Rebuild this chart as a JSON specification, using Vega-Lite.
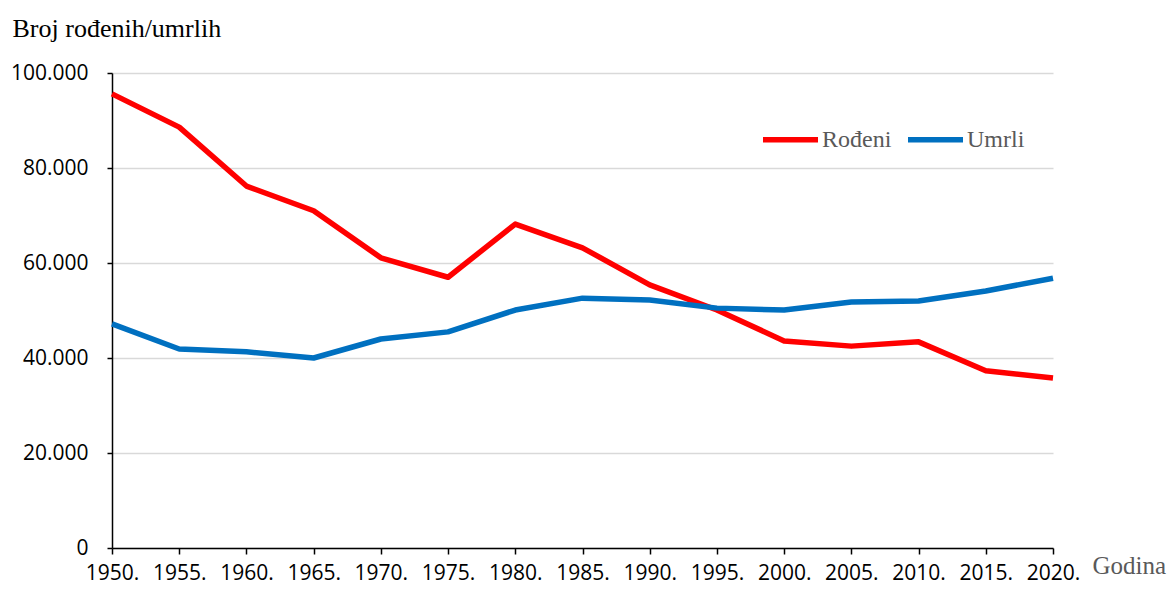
{
  "$schema": "https://vega.github.io/schema/vega-lite/v6.json",
  "autosize": {"type": "none"},
  "width": 941,
  "height": 475,
  "padding": {"left": 112, "top": 73, "right": 119, "bottom": 42},
  "background": "white",
  "config": {"view": {"stroke": null}},
  "data": {
    "values": [
      {"godina": 1950, "serija": "Rođeni", "broj": 95600},
      {"godina": 1955, "serija": "Rođeni", "broj": 88600},
      {"godina": 1960, "serija": "Rođeni", "broj": 76200},
      {"godina": 1965, "serija": "Rođeni", "broj": 71000},
      {"godina": 1970, "serija": "Rođeni", "broj": 61100},
      {"godina": 1975, "serija": "Rođeni", "broj": 57000},
      {"godina": 1980, "serija": "Rođeni", "broj": 68200},
      {"godina": 1985, "serija": "Rođeni", "broj": 63200},
      {"godina": 1990, "serija": "Rođeni", "broj": 55400},
      {"godina": 1995, "serija": "Rođeni", "broj": 50100},
      {"godina": 2000, "serija": "Rođeni", "broj": 43600},
      {"godina": 2005, "serija": "Rođeni", "broj": 42500},
      {"godina": 2010, "serija": "Rođeni", "broj": 43400},
      {"godina": 2015, "serija": "Rođeni", "broj": 37300},
      {"godina": 2020, "serija": "Rođeni", "broj": 35800},
      {"godina": 1950, "serija": "Umrli", "broj": 47200},
      {"godina": 1955, "serija": "Umrli", "broj": 41900},
      {"godina": 1960, "serija": "Umrli", "broj": 41300},
      {"godina": 1965, "serija": "Umrli", "broj": 40000},
      {"godina": 1970, "serija": "Umrli", "broj": 44000},
      {"godina": 1975, "serija": "Umrli", "broj": 45500},
      {"godina": 1980, "serija": "Umrli", "broj": 50100},
      {"godina": 1985, "serija": "Umrli", "broj": 52600},
      {"godina": 1990, "serija": "Umrli", "broj": 52200},
      {"godina": 1995, "serija": "Umrli", "broj": 50500},
      {"godina": 2000, "serija": "Umrli", "broj": 50100},
      {"godina": 2005, "serija": "Umrli", "broj": 51800},
      {"godina": 2010, "serija": "Umrli", "broj": 52000},
      {"godina": 2015, "serija": "Umrli", "broj": 54100},
      {"godina": 2020, "serija": "Umrli", "broj": 56800}
    ]
  },
  "mark": {"type": "line", "strokeWidth": 5.5, "strokeJoin": "round", "strokeCap": "butt"},
  "encoding": {
    "x": {
      "field": "godina",
      "type": "quantitative",
      "scale": {"domain": [1950, 2020], "nice": false, "zero": false},
      "axis": {
        "values": [1950, 1955, 1960, 1965, 1970, 1975, 1980, 1985, 1990, 1995, 2000, 2005, 2010, 2015, 2020],
        "labelExpr": "datum.value + '.'",
        "grid": false,
        "domainColor": "black",
        "domainWidth": 1.5,
        "tickColor": "black",
        "tickWidth": 1.5,
        "tickSize": 6,
        "labelPadding": 8,
        "labelFont": "Open Sans",
        "labelFontSize": 21,
        "labelColor": "black",
        "labelFlush": false,
        "labelOverlap": false,
        "title": "Godina",
        "titleFont": "Liberation Serif",
        "titleFontSize": 25,
        "titleFontWeight": "normal",
        "titleColor": "#595959",
        "titleAnchor": null,
        "titleX": 980,
        "titleY": 17,
        "titleAlign": "left",
        "titleBaseline": "middle"
      }
    },
    "y": {
      "field": "broj",
      "type": "quantitative",
      "scale": {"domain": [0, 100000], "nice": false},
      "axis": {
        "values": [0, 20000, 40000, 60000, 80000, 100000],
        "labelExpr": "replace(format(datum.value, ','), ',', '.')",
        "grid": true,
        "gridColor": "#d9d9d9",
        "gridWidth": 1.5,
        "domainColor": "black",
        "domainWidth": 1.5,
        "tickColor": "black",
        "tickWidth": 1.5,
        "tickSize": 5,
        "labelPadding": 19,
        "labelFont": "Open Sans",
        "labelFontSize": 21,
        "labelColor": "black",
        "title": "Broj rođenih/umrlih",
        "titleFont": "Liberation Serif",
        "titleFontSize": 26,
        "titleFontWeight": "normal",
        "titleColor": "black",
        "titleAngle": 0,
        "titleX": -100,
        "titleY": -37,
        "titleAlign": "left",
        "titleBaseline": "alphabetic"
      }
    },
    "color": {
      "field": "serija",
      "type": "nominal",
      "scale": {"domain": ["Rođeni", "Umrli"], "range": ["#ff0000", "#0070c0"]},
      "legend": {
        "title": null,
        "orient": "none",
        "legendX": 648,
        "legendY": 36,
        "direction": "horizontal",
        "symbolType": "stroke",
        "symbolSize": 3025,
        "symbolStrokeWidth": 5.5,
        "labelFont": "Liberation Serif",
        "labelFontSize": 24,
        "labelColor": "#595959",
        "labelOffset": 1,
        "columnPadding": 5
      }
    }
  }
}
